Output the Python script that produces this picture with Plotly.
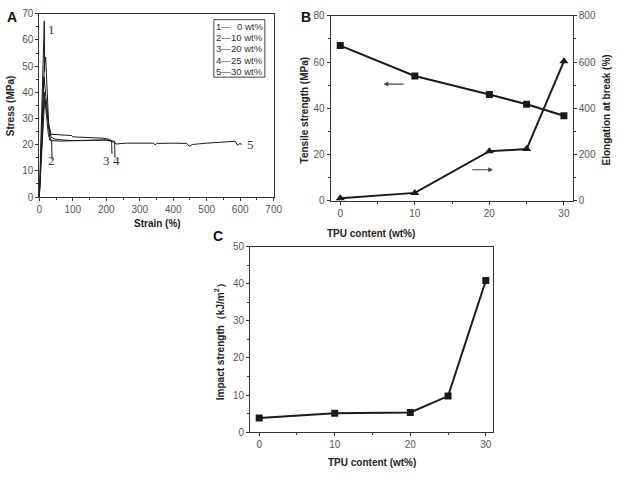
import plotly.graph_objects as go

# panel A - stress/strain curves
strain_0 = [0, 4, 8, 12, 15, 16]
stress_0 = [0, 18, 40, 58, 67.3, 48]
strain_10 = [0, 5, 10, 15, 19, 24, 29, 33, 37, 38]
stress_10 = [0, 17, 36, 50, 53.5, 38, 25, 22, 21.8, 14.4]
strain_20 = [0, 5, 10, 14, 20, 28, 35, 60, 97, 100, 150, 190, 210, 216, 217]
stress_20 = [0, 16, 34, 46, 38, 28, 24, 23.8, 23.5, 23, 22.8, 22.5, 22, 21.5, 16.5]
strain_25 = [0, 5, 10, 15, 20, 27, 32, 60, 100, 150, 200, 225, 226]
stress_25 = [0, 14, 30, 40, 33, 24, 21.6, 21.4, 21.5, 21.6, 21.8, 21.3, 15]
strain_30 = [0, 6, 12, 16, 22, 28, 35, 45, 70, 100, 150, 200, 222, 230, 260, 300, 340,
             346, 352, 400, 440, 448, 458, 500, 540, 560, 585, 592, 598, 605]
stress_30 = [0, 14, 30, 37.5, 33, 27, 23, 22.2, 21.8, 21.6, 21.7, 21.8, 21.0, 20.3, 20.6,
             20.7, 20.6, 20.0, 20.5, 20.6, 20.5, 19.4, 20.1, 20.6, 21.0, 21.0, 21.3, 19.8, 20.4, 20.2]
curve_labels = ["1", "2", "3", "4", "5"]
legend_nums = ["1—", "2—", "3—", "4—", "5—"]
legend_names = ["0 wt%", "10 wt%", "20 wt%", "25 wt%", "30 wt%"]

# panel B / C - vs TPU content
tpu = [0, 10, 20, 25, 30]
tensile = [67.1, 54.0, 46.0, 41.8, 36.8]
elongation = [12, 35, 215, 224, 603]
impact = [3.8, 5.1, 5.3, 9.7, 40.9]

dark = "#1a1a1a"
axcol = "#333333"
tickfont = dict(family="Liberation Sans, Arial", size=10, color="#555555")
titlefont = dict(family="Liberation Sans, Arial", size=10, color="#222222")

fig = go.Figure()

for sx, sy in [(strain_0, stress_0), (strain_10, stress_10), (strain_20, stress_20),
               (strain_25, stress_25), (strain_30, stress_30)]:
    fig.add_trace(go.Scatter(x=sx, y=sy, mode="lines", line=dict(color=dark, width=1),
                             xaxis="x", yaxis="y", showlegend=False))

fig.add_trace(go.Scatter(x=tpu, y=tensile, mode="lines+markers",
                         line=dict(color=dark, width=2),
                         marker=dict(symbol="square", size=7, color=dark),
                         xaxis="x2", yaxis="y2", showlegend=False))
fig.add_trace(go.Scatter(x=tpu, y=elongation, mode="lines+markers",
                         line=dict(color=dark, width=2),
                         marker=dict(symbol="triangle-up", size=8, color=dark),
                         xaxis="x2", yaxis="y3", showlegend=False))
fig.add_trace(go.Scatter(x=tpu, y=impact, mode="lines+markers",
                         line=dict(color=dark, width=2),
                         marker=dict(symbol="square", size=7, color=dark),
                         xaxis="x3", yaxis="y4", showlegend=False))


def ax(dom, rng, dtick, minor, anchor, **kw):
    d = dict(domain=dom, range=rng, dtick=dtick, tick0=0, anchor=anchor,
             showline=True, linecolor=axcol, linewidth=1, mirror=True,
             ticks="outside", ticklen=3, tickcolor=axcol, showgrid=False,
             zeroline=False, tickfont=tickfont,
             minor=dict(dtick=minor, ticks="outside", ticklen=2, tickcolor=axcol))
    d.update(kw)
    return d


W, H = 624, 479
px = lambda a, b: [a / W, b / W]
py = lambda top, bot: [1 - bot / H, 1 - top / H]

ann = []
# panel letters
for t, x, y in [("A", 2, 1), ("B", 302, 1), ("C", 212, 226)]:
    ann.append(dict(text="<b>%s</b>" % t, x=x / W, y=1 - y / H, xref="paper", yref="paper",
                    xanchor="left", yanchor="top", showarrow=False,
                    font=dict(family="Liberation Sans, Arial", size=14, color="#111")))
# axis titles
for t, x, y, ang in [("Strain (%)", 158, 223, 0), ("Stress (MPa)", 8, 102, -90),
                     ("Tensile strength (MPa)", 307, 107, -90),
                     ("Elongation at break (%)", 615, 107, -90),
                     ("TPU content (wt%)", 375, 233, 0),
                     ("Impact strength（kJ/m<sup>2</sup>）", 221, 342, -90),
                     ("TPU content (wt%)", 376, 468, 0)]:
    ann.append(dict(text="<b>%s</b>" % t, x=x / W, y=1 - y / H, xref="paper", yref="paper",
                    xanchor="center", yanchor="middle", textangle=ang, showarrow=False,
                    font=titlefont))
# curve numbers in panel A
for t, x, y in zip(curve_labels, [37, 35, 202, 230, 632], [64, 13.8, 13.8, 13.8, 20]):
    ann.append(dict(text=t, x=x, y=y, xref="x", yref="y", showarrow=False,
                    font=dict(family="Liberation Serif, Times New Roman", size=13, color="#333")))
# legend box, one row at a time
legfont = dict(family="Liberation Sans, Arial", size=9.5, color="#333")
for i, (n, name) in enumerate(zip(legend_nums, legend_names)):
    yy = 1 - (15 + 11.6 * (i + 0.5)) / H
    ann.append(dict(text=n, x=216 / W, y=yy, xref="paper", yref="paper", xanchor="left",
                    yanchor="middle", showarrow=False, font=legfont, borderpad=0))
    ann.append(dict(text=name, x=266 / W, y=yy, xref="paper", yref="paper", xanchor="right",
                    yanchor="middle", showarrow=False, font=legfont, borderpad=0))
# arrows in panel B
ann.append(dict(x=5.8, y=50.5, ax=8.7, ay=50.5, xref="x2", yref="y2", axref="x2", ayref="y2",
                showarrow=True, arrowhead=2, arrowsize=0.8, arrowwidth=1.2, arrowcolor="#444", text=""))
ann.append(dict(x=20.5, y=13.5, ax=17.5, ay=13.5, xref="x2", yref="y2", axref="x2", ayref="y2",
                showarrow=True, arrowhead=2, arrowsize=0.8, arrowwidth=1.2, arrowcolor="#444", text=""))

fig.update_layout(
    width=W, height=H, margin=dict(l=0, r=0, t=0, b=0),
    paper_bgcolor="white", plot_bgcolor="white",
    xaxis=ax(px(37, 276), [0, 700], 100, 50, "y"),
    yaxis=ax(py(8, 196), [0, 70], 10, 5, "x"),
    xaxis2=ax(px(334, 581), [-1.3, 31.2], 10, 5, "y2"),
    yaxis2=ax(py(10, 200), [0, 80], 20, 10, "x2", mirror=False),
    yaxis3=ax(py(10, 200), [0, 800], 200, 100, "x2", mirror=False, side="right", overlaying="y2"),
    xaxis3=ax(px(252, 500), [-1.2, 31.0], 10, 5, "y4"),
    yaxis4=ax(py(247, 437), [0, 50], 10, 5, "x3"),
    annotations=ann,
    shapes=[dict(type="rect", xref="paper", yref="paper", x0=215 / W, x1=267 / W,
                 y0=1 - 73 / H, y1=1 - 14 / H, line=dict(color="#444", width=1),
                 fillcolor="white", layer="below")],
)

# drop the browser's default page margin so the figure sits at 0,0, no modebar
fig.write_html("out.html", config={"displayModeBar": False},
               post_script="document.body.style.margin='0';")
